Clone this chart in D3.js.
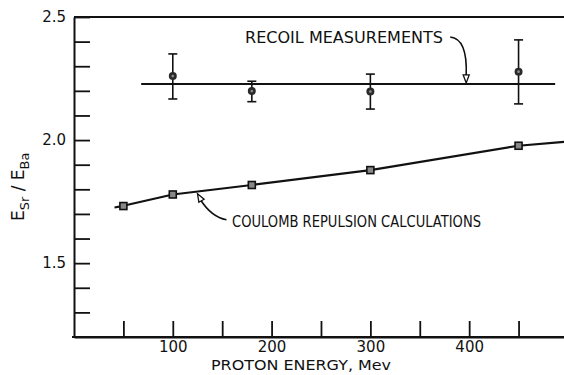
<!DOCTYPE html>
<html lang="en">
<head>
  <meta charset="UTF-8">
  <title>Esr/EBa vs proton energy</title>
  <script src="https://d3js.org/d3.v7.min.js"></script>
  <style>
    body { margin: 0; background: #fff; }
    text { font-family: "DejaVu Sans", sans-serif; fill: #111; }
  </style>
</head>
<body>

<div id="chart"></div>

<script>
// Recoil measurements (points with error bars)
const recoilEnergy = [100, 180, 300, 450];
const recoilValue  = [2.260, 2.199, 2.197, 2.278];
const recoilHigh   = [2.350, 2.239, 2.268, 2.407];
const recoilLow    = [2.167, 2.156, 2.126, 2.147];
// horizontal line through the measurements: level and extent (MeV)
const recoilLevel = 2.228;
const recoilSpan  = [68, 487];

// Coulomb repulsion calculations
const coulombEnergy = [50, 100, 180, 300, 450];
const coulombValue  = [1.732, 1.779, 1.8175, 1.878, 1.977];
// the drawn curve, including its ends
const coulombCurveEnergy = [41, 50, 100, 180, 300, 450, 496];
const coulombCurveValue  = [1.726, 1.733, 1.779, 1.8175, 1.878, 1.977, 1.993];

// axis ticks
const xTicks = [50, 100, 150, 200, 250, 300, 350, 400, 450];
const xLabels = [100, 200, 300, 400];
const yTicks = [1.3, 1.4, 1.5, 1.6, 1.7, 1.8, 1.9, 2.0, 2.1, 2.2, 2.3, 2.4, 2.5];
const yLabels = [1.5, 2.0, 2.5];

const width = 564;
const height = 375;
const ink = "#111";

const x = d3.scaleLinear().domain([0, 496]).range([74, 564]);
const y = d3.scaleLinear().domain([1.2, 2.5]).range([337, 17]);

const svg = d3.select("#chart")
  .append("svg")
  .attr("width", width)
  .attr("height", height);

// x axis, ticks pointing up into the plot
const xAxis = svg.append("g")
  .attr("transform", `translate(0,${y(1.2)})`)
  .call(d3.axisBottom(x)
    .tickValues(xTicks)
    .tickSize(-16)
    .tickSizeOuter(0)
    .tickPadding(4)
    .tickFormat(d => xLabels.includes(d) ? d : ""));

// y axis, ticks pointing right
const yAxis = svg.append("g")
  .attr("transform", `translate(${x(0)},0)`)
  .call(d3.axisLeft(y)
    .tickValues(yTicks)
    .tickSize(-16)
    .tickSizeOuter(0)
    .tickPadding(8)
    .tickFormat(d => yLabels.includes(d) ? d3.format(".1f")(d) : ""));

[xAxis, yAxis].forEach(g => {
  g.select(".domain").attr("stroke", ink).attr("stroke-width", 2);
  g.selectAll(".tick line").attr("stroke", ink).attr("stroke-width", 1.8);
  g.selectAll(".tick text").attr("font-size", 15).attr("fill", ink)
    .style("font-family", "DejaVu Sans, sans-serif");
});

// extend the x axis line to the left edge of the frame
svg.append("line")
  .attr("x1", x(0) - 2).attr("x2", x(496))
  .attr("y1", y(1.2)).attr("y2", y(1.2))
  .attr("stroke", ink).attr("stroke-width", 2);

// top line of the frame
svg.append("line")
  .attr("x1", x(0)).attr("x2", x(496))
  .attr("y1", y(2.5)).attr("y2", y(2.5))
  .attr("stroke", ink).attr("stroke-width", 2);

// axis titles
svg.append("text")
  .attr("x", 211).attr("y", 370)
  .attr("font-size", 14)
  .attr("textLength", 180)
  .attr("lengthAdjust", "spacingAndGlyphs")
  .text("PROTON ENERGY, Mev");

const yTitle = svg.append("text")
  .attr("transform", `translate(24,${y(1.81)}) rotate(-90)`)
  .attr("text-anchor", "middle")
  .attr("font-size", 17);
yTitle.append("tspan").text("E");
yTitle.append("tspan").attr("font-size", 13).attr("dy", 5).text("Sr");
yTitle.append("tspan").attr("dy", -5).text(" / E");
yTitle.append("tspan").attr("font-size", 13).attr("dy", 5).text("Ba");

// recoil level line
svg.append("line")
  .attr("x1", x(recoilSpan[0])).attr("x2", x(recoilSpan[1]))
  .attr("y1", y(recoilLevel)).attr("y2", y(recoilLevel))
  .attr("stroke", ink).attr("stroke-width", 2);

// error bars
const recoil = recoilEnergy.map((e, i) => ({
  e, v: recoilValue[i], hi: recoilHigh[i], lo: recoilLow[i]
}));

const bars = svg.append("g").selectAll("g")
  .data(recoil)
  .enter()
  .append("g");

bars.append("line")
  .attr("x1", d => x(d.e)).attr("x2", d => x(d.e))
  .attr("y1", d => y(d.hi)).attr("y2", d => y(d.lo))
  .attr("stroke", ink).attr("stroke-width", 1.6);
bars.selectAll(".cap")
  .data(d => [[d.e, d.hi], [d.e, d.lo]])
  .enter()
  .append("line")
  .attr("class", "cap")
  .attr("x1", d => x(d[0]) - 4.5).attr("x2", d => x(d[0]) + 4.5)
  .attr("y1", d => y(d[1])).attr("y2", d => y(d[1]))
  .attr("stroke", ink).attr("stroke-width", 1.6);
bars.append("circle")
  .attr("cx", d => x(d.e)).attr("cy", d => y(d.v))
  .attr("r", 4)
  .attr("fill", "#2a2a2a");
bars.append("circle")
  .attr("cx", d => x(d.e)).attr("cy", d => y(d.v))
  .attr("r", 1.4)
  .attr("fill", "#888");

// coulomb curve
const curve = d3.line()
  .x((d, i) => x(coulombCurveEnergy[i]))
  .y(d => y(d));

svg.append("path")
  .attr("d", curve(coulombCurveValue))
  .attr("fill", "none")
  .attr("stroke", ink)
  .attr("stroke-width", 2.2)
  .attr("stroke-linejoin", "round");

svg.append("g").selectAll("rect")
  .data(coulombEnergy)
  .enter()
  .append("rect")
  .attr("x", (d) => x(d) - 3.5)
  .attr("y", (d, i) => y(coulombValue[i]) - 3.5)
  .attr("width", 7).attr("height", 7)
  .attr("fill", "#888")
  .attr("stroke", ink)
  .attr("stroke-width", 1.6);

// annotations
function arrowHead(g, tx, ty, angle) {
  g.append("path")
    .attr("transform", `translate(${tx},${ty}) rotate(${angle})`)
    .attr("d", "M0,0 L-3,-8 L3,-8 Z")
    .attr("fill", "#fff")
    .attr("stroke", ink)
    .attr("stroke-width", 1.3);
}

const notes = svg.append("g");

// RECOIL MEASUREMENTS
const rx = x(397), ry = y(recoilLevel) - 1;
notes.append("text")
  .attr("x", 245).attr("y", 43)
  .attr("font-size", 15)
  .attr("textLength", 198)
  .attr("lengthAdjust", "spacingAndGlyphs")
  .text("RECOIL MEASUREMENTS");
notes.append("path")
  .attr("d", `M${rx - 16},${ry - 46} C${rx - 6},${ry - 45} ${rx + 1},${ry - 34} ${rx},${ry - 8}`)
  .attr("fill", "none")
  .attr("stroke", ink).attr("stroke-width", 1.6);
arrowHead(notes, rx, ry, 0);

// COULOMB REPULSION CALCULATIONS
const cx = x(125), cy = y(1.79) + 2;
notes.append("text")
  .attr("x", 232).attr("y", 227)
  .attr("font-size", 15)
  .attr("textLength", 249)
  .attr("lengthAdjust", "spacingAndGlyphs")
  .text("COULOMB REPULSION CALCULATIONS");
notes.append("path")
  .attr("d", `M${cx + 3},${cy + 6} C${cx + 10},${cy + 17} ${cx + 18},${cy + 24} ${cx + 29},${cy + 26}`)
  .attr("fill", "none")
  .attr("stroke", ink).attr("stroke-width", 1.6);
arrowHead(notes, cx, cy, 150);
</script>

</body>
</html>
